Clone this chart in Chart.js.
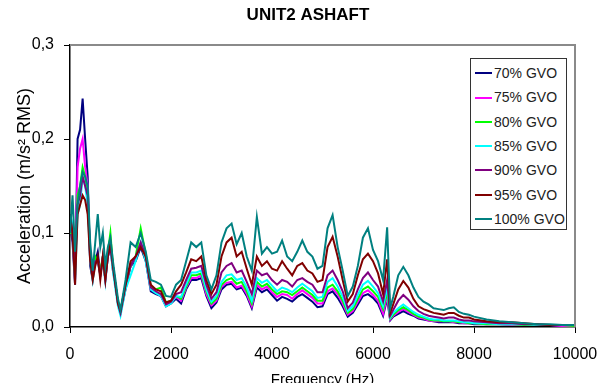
<!DOCTYPE html>
<html>
<head>
<meta charset="utf-8">
<script src="https://cdn.jsdelivr.net/npm/chart.js@4.4.1/dist/chart.umd.min.js"></script>
<style>
  html, body { margin: 0; padding: 0; background: #fff; overflow: hidden; }
  #wrap { position: relative; width: 613px; height: 392px; }
  #legend { position: absolute; left: 470px; top: 58px; width: 97px; height: 172px;
    border: 1px solid #333; background: #fff; box-sizing: border-box;
    font-family: "Liberation Sans", Arial, sans-serif; font-size: 14px; color: #222; }
  .row { position: absolute; left: 0; height: 18px; line-height: 18px; white-space: nowrap; }
  .sw { display: inline-block; width: 17px; height: 0; border-top: 2px solid; vertical-align: middle; margin-left: 4px; margin-right: 2px; position: relative; top: -1px; }
</style>
</head>
<body>
<div id="wrap">
  <canvas id="c" width="613" height="392"></canvas>
  <div id="legend"></div>
</div>
<script>
// ---- data ----
const chartTitle = "UNIT2 ASHAFT";
const xTitle = "Frequency (Hz)";
const yTitle = "Acceleration (m/s\u00B2 RMS)";
const xTickLabels = ["0", "2000", "4000", "6000", "8000", "10000"];
const yTickLabels = ["0,0", "0,1", "0,2", "0,3"];
const seriesNames = ["70% GVO", "75% GVO", "80% GVO", "85% GVO", "90% GVO", "95% GVO", "100% GVO"];

const freq = [0,50,100,150,200,250,300,350,400,450,500,550,600,650,700,750,800,850,900,950,1000,
  1100,1200,1300,1400,1500,1600,1700,1800,1900,2000,
  2100,2200,2300,2400,2500,2600,2700,2800,2900,3000,
  3100,3200,3300,3400,3500,3600,3700,3800,3900,4000,
  4100,4200,4300,4400,4500,4600,4700,4800,4900,5000,
  5100,5200,5300,5400,5500,5600,5700,5800,5900,6000,
  6100,6200,6280,6340,6400,
  6500,6600,6700,6800,6900,7000,7100,7200,7300,7400,7500,7600,7700,7800,7900,8000,
  8250,8500,8750,9000,9250,9500,9750,10000];

const gvo70 = [0.11,0.09,0.045,0.2,0.21,0.243,0.2,0.16,0.065,0.05,0.07,0.08,0.055,0.075,0.07,0.075,0.085,0.06,0.045,0.025,0.015,
  0.04,0.065,0.07,0.085,0.07,0.038,0.035,0.033,0.022,0.025,
  0.03,0.025,0.04,0.05,0.05,0.052,0.033,0.02,0.026,0.04,
  0.045,0.046,0.04,0.042,0.033,0.02,0.042,0.037,0.04,0.034,
  0.028,0.032,0.03,0.027,0.032,0.035,0.031,0.027,0.021,0.022,
  0.035,0.038,0.031,0.022,0.011,0.015,0.024,0.033,0.035,0.031,
  0.025,0.012,0.03,0.007,0.011,
  0.014,0.017,0.014,0.012,0.009,0.008,0.007,0.006,0.005,0.005,0.005,0.005,0.004,0.004,0.004,0.003,
  0.003,0.003,0.002,0.002,0.002,0.002,0.001,0.001];

const gvo75 = [0.11,0.1,0.05,0.17,0.19,0.2,0.17,0.15,0.07,0.055,0.07,0.07,0.06,0.07,0.05,0.075,0.085,0.065,0.045,0.025,0.015,
  0.045,0.065,0.075,0.09,0.075,0.04,0.037,0.033,0.024,0.027,
  0.032,0.028,0.042,0.052,0.052,0.055,0.035,0.023,0.028,0.043,
  0.047,0.048,0.042,0.044,0.035,0.022,0.045,0.04,0.043,0.037,
  0.032,0.035,0.034,0.03,0.035,0.039,0.035,0.031,0.025,0.025,
  0.038,0.041,0.035,0.025,0.013,0.017,0.027,0.036,0.039,0.034,
  0.028,0.014,0.033,0.008,0.012,
  0.016,0.019,0.016,0.013,0.01,0.009,0.007,0.006,0.006,0.006,0.006,0.005,0.005,0.004,0.004,0.004,
  0.003,0.003,0.002,0.002,0.002,0.002,0.001,0.001];

const gvo80 = [0.1,0.1,0.055,0.14,0.15,0.17,0.16,0.14,0.075,0.055,0.075,0.07,0.06,0.075,0.05,0.08,0.1,0.065,0.045,0.027,0.018,
  0.045,0.065,0.075,0.105,0.078,0.042,0.04,0.042,0.026,0.028,
  0.033,0.03,0.043,0.055,0.055,0.057,0.038,0.025,0.03,0.045,
  0.05,0.052,0.046,0.048,0.038,0.025,0.048,0.043,0.046,0.04,
  0.035,0.038,0.037,0.034,0.038,0.042,0.038,0.034,0.028,0.028,
  0.042,0.045,0.038,0.028,0.015,0.019,0.03,0.04,0.043,0.038,
  0.032,0.019,0.037,0.009,0.013,
  0.018,0.021,0.018,0.014,0.011,0.01,0.008,0.007,0.007,0.006,0.006,0.006,0.005,0.005,0.004,0.004,
  0.003,0.003,0.003,0.002,0.002,0.002,0.002,0.001];

const gvo85 = [0.1,0.11,0.05,0.12,0.13,0.16,0.15,0.13,0.07,0.05,0.07,0.07,0.055,0.07,0.048,0.075,0.085,0.06,0.04,0.022,0.012,
  0.04,0.055,0.07,0.09,0.07,0.04,0.036,0.033,0.022,0.025,
  0.033,0.032,0.045,0.058,0.058,0.06,0.04,0.027,0.033,0.048,
  0.055,0.056,0.05,0.052,0.042,0.028,0.052,0.047,0.05,0.044,
  0.038,0.042,0.04,0.037,0.042,0.046,0.042,0.038,0.031,0.032,
  0.048,0.052,0.043,0.032,0.017,0.022,0.034,0.045,0.049,0.043,
  0.036,0.022,0.042,0.01,0.015,
  0.02,0.024,0.02,0.016,0.013,0.011,0.009,0.008,0.008,0.007,0.007,0.007,0.006,0.005,0.005,0.004,
  0.004,0.003,0.003,0.003,0.002,0.002,0.002,0.002];

const gvo90 = [0.12,0.1,0.06,0.13,0.14,0.16,0.15,0.14,0.075,0.055,0.07,0.07,0.055,0.075,0.05,0.075,0.085,0.065,0.045,0.025,0.015,
  0.045,0.065,0.075,0.09,0.075,0.042,0.038,0.035,0.024,0.027,
  0.035,0.037,0.05,0.062,0.063,0.065,0.045,0.03,0.037,0.058,
  0.065,0.068,0.058,0.06,0.048,0.035,0.06,0.055,0.057,0.05,
  0.045,0.05,0.048,0.043,0.05,0.052,0.048,0.045,0.037,0.037,
  0.055,0.06,0.05,0.038,0.02,0.026,0.04,0.052,0.058,0.05,
  0.043,0.027,0.05,0.012,0.018,
  0.028,0.034,0.029,0.022,0.017,0.014,0.012,0.011,0.01,0.009,0.01,0.01,0.008,0.007,0.007,0.006,
  0.005,0.004,0.004,0.003,0.003,0.002,0.002,0.002];

const gvo95 = [0.12,0.1,0.045,0.12,0.13,0.14,0.135,0.12,0.07,0.05,0.065,0.075,0.05,0.075,0.05,0.075,0.09,0.065,0.045,0.025,0.017,
  0.045,0.07,0.075,0.085,0.075,0.045,0.04,0.038,0.026,0.028,
  0.038,0.045,0.058,0.072,0.07,0.075,0.05,0.035,0.045,0.075,
  0.09,0.095,0.075,0.08,0.062,0.045,0.075,0.065,0.07,0.062,
  0.06,0.07,0.062,0.055,0.065,0.068,0.06,0.057,0.048,0.05,
  0.085,0.096,0.075,0.05,0.027,0.035,0.055,0.072,0.078,0.07,
  0.057,0.035,0.072,0.015,0.024,
  0.04,0.049,0.042,0.03,0.022,0.019,0.017,0.015,0.014,0.013,0.015,0.015,0.012,0.01,0.01,0.008,
  0.006,0.005,0.005,0.004,0.003,0.002,0.002,0.002];

const gvo100 = [0.1,0.14,0.08,0.13,0.15,0.165,0.16,0.15,0.09,0.06,0.09,0.12,0.085,0.1,0.065,0.085,0.095,0.07,0.05,0.03,0.018,
  0.05,0.09,0.085,0.1,0.08,0.05,0.048,0.045,0.033,0.032,
  0.045,0.05,0.07,0.09,0.085,0.09,0.055,0.04,0.055,0.09,
  0.105,0.11,0.088,0.1,0.075,0.06,0.117,0.078,0.085,0.078,
  0.08,0.092,0.075,0.07,0.08,0.092,0.08,0.075,0.062,0.065,
  0.105,0.119,0.085,0.06,0.033,0.043,0.065,0.095,0.105,0.082,
  0.07,0.05,0.106,0.02,0.032,
  0.055,0.064,0.055,0.042,0.032,0.027,0.024,0.02,0.019,0.018,0.02,0.021,0.016,0.014,0.013,0.011,
  0.008,0.006,0.005,0.004,0.003,0.003,0.002,0.002];

const seriesValues = [gvo70, gvo75, gvo80, gvo85, gvo90, gvo95, gvo100];
const seriesColors = ["#000080", "#ff00ff", "#00ff00", "#00ffff", "#800080", "#800000", "#008080"];

// ---- chart ----
const FONT = '"Liberation Sans", Arial, sans-serif';

const datasets = seriesValues.map((vals, s) => ({
  label: seriesNames[s],
  data: freq.map((f, i) => ({ x: f, y: vals[i] })),
  borderColor: seriesColors[s],
  backgroundColor: seriesColors[s],
  borderWidth: 2,
  pointRadius: 0,
  tension: 0,
  order: seriesValues.length - 1 - s
}));

const framePlugin = {
  id: 'frame',
  afterDatasetsDraw(chart) {
    const { ctx, chartArea: a } = chart;
    ctx.save();
    ctx.strokeStyle = '#8a8a8a';
    ctx.lineWidth = 2;
    ctx.beginPath();
    ctx.moveTo(a.left, a.top);
    ctx.lineTo(a.right, a.top);
    ctx.lineTo(a.right, a.bottom);
    ctx.stroke();
    ctx.restore();
  },
  afterDraw(chart) {
    const { ctx } = chart;
    ctx.save();
    ctx.fillStyle = '#000';
    ctx.font = 'bold 17px ' + FONT;
    ctx.textAlign = 'center';
    ctx.textBaseline = 'middle';
    ctx.fillText(chartTitle, 308, 15);
    ctx.restore();
  }
};

new Chart(document.getElementById('c'), {
  type: 'line',
  data: { datasets },
  plugins: [framePlugin],
  options: {
    responsive: false,
    animation: false,
    events: [],
    layout: { padding: { top: 45, right: 38, left: 0, bottom: 0 } },
    plugins: {
      legend: { display: false },
      tooltip: { enabled: false },
      title: { display: false }
    },
    scales: {
      x: {
        type: 'linear',
        min: 0, max: 10000,
        afterFit(scale) { scale.height = 65; },
        ticks: {
          stepSize: 2000,
          color: '#000',
          font: { family: FONT, size: 16 },
          padding: 12,
          maxRotation: 0,
          callback: (v, i) => xTickLabels[i]
        },
        grid: { display: true, drawOnChartArea: false, drawTicks: true, tickLength: 6, color: '#000', lineWidth: 1 },
        border: { display: true, color: '#000', width: 1.5 },
        title: { display: true, text: xTitle, color: '#000', font: { family: FONT, size: 15 }, padding: { top: 0, bottom: 3 } }
      },
      y: {
        min: 0, max: 0.3,
        afterFit(scale) { scale.width = 70; },
        ticks: {
          stepSize: 0.1,
          color: '#000',
          font: { family: FONT, size: 16 },
          padding: 10,
          callback: (v, i) => yTickLabels[i]
        },
        grid: { display: true, drawOnChartArea: false, drawTicks: true, tickLength: 6, color: '#000', lineWidth: 1 },
        border: { display: true, color: '#000', width: 1.5 },
        title: { display: true, text: yTitle, color: '#000', font: { family: FONT, size: 18 }, padding: { top: 14, bottom: 0 } }
      }
    }
  }
});

// ---- legend (HTML) ----
const leg = document.getElementById('legend');
seriesNames.forEach((name, s) => {
  const r = document.createElement('div');
  r.className = 'row';
  r.style.top = (5 + s * 24.3) + 'px';
  const sw = document.createElement('span');
  sw.className = 'sw';
  sw.style.borderTopColor = seriesColors[s];
  r.appendChild(sw);
  r.appendChild(document.createTextNode(name));
  leg.appendChild(r);
});
</script>
</body>
</html>
